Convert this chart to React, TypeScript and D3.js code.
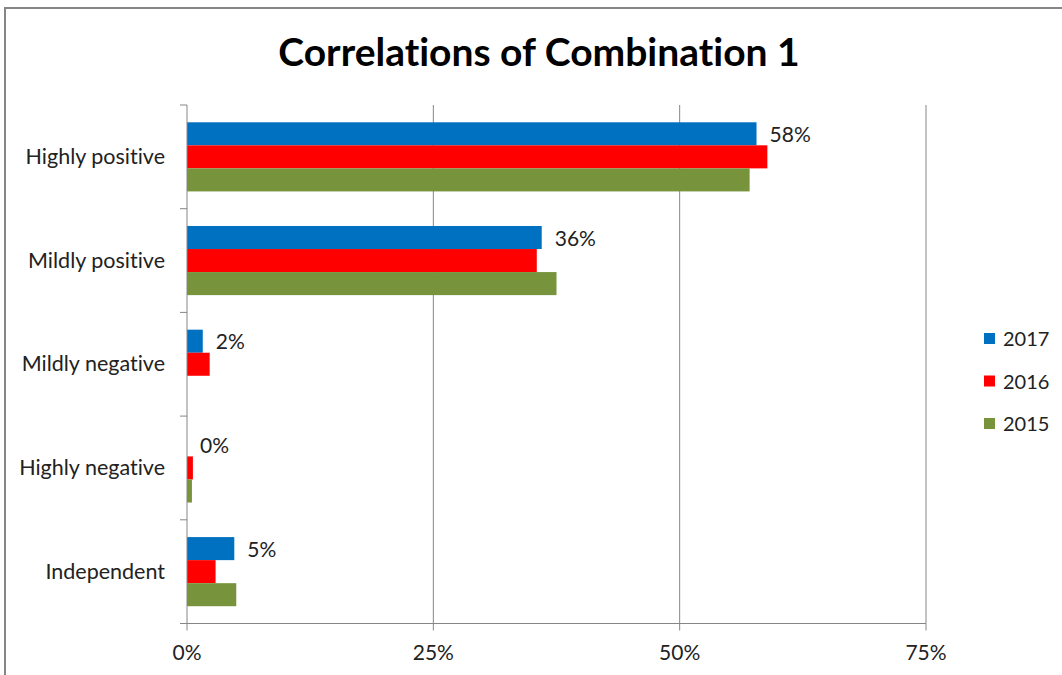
import React from "react";
import * as d3 from "d3";

const TITLE = "Correlations of Combination 1";
const categories = ["Highly positive", "Mildly positive", "Mildly negative", "Highly negative", "Independent"];
const seriesNames = ["2017", "2016", "2015"];
const values2017 = [57.8, 36.0, 1.6, 0, 4.8];
const values2016 = [58.9, 35.5, 2.3, 0.6, 2.9];
const values2015 = [57.1, 37.5, 0, 0.5, 5.0];
const seriesColors = ["#0070C0", "#FF0000", "#77933C"];
const xTicks = [0, 25, 50, 75];

const W = 1062;
const H = 675;
const FONT = "Lato, 'Noto Sans', sans-serif";

export default function App() {
  const series = [values2017, values2016, values2015];
  const left = 187, right = 926, top = 105, bottom = 623.5;
  const x = d3.scaleLinear().domain([0, 75]).range([left, right]);
  const y0 = d3.scaleBand<string>().domain(categories).range([top, bottom]).paddingInner(0).paddingOuter(0);
  const y1 = d3.scaleBand<string>().domain(seriesNames).range([0, y0.bandwidth()]).paddingInner(0).paddingOuter(0.75);
  const gridColor = "#868686";
  const bounds = [...categories.map((c) => y0(c)!), bottom];

  return (
    <svg
      width={W}
      height={H}
      style={{ position: "absolute", left: 0, top: 0, background: "#fff", fontVariantLigatures: "none" }}
    >
      <rect x={0} y={0} width={W} height={H} fill="#fff" />
      <rect x={5} y={8} width={W + 20} height={H + 20} fill="none" stroke={gridColor} strokeWidth={2} />
      <text x={539} y={66} textAnchor="middle" fontFamily={FONT} fontWeight="bold" fontSize={39} fill="#000">
        {TITLE}
      </text>
      {xTicks.map((t) => (
        <g key={t}>
          {t > 0 && <line x1={x(t)} x2={x(t)} y1={top} y2={bottom} stroke={gridColor} strokeWidth={1} />}
          <line x1={x(t)} x2={x(t)} y1={bottom} y2={bottom + 7} stroke={gridColor} strokeWidth={1} />
          <text x={x(t)} y={660} textAnchor="middle" fontFamily={FONT} fontSize={21} fill="#222">
            {`${t}%`}
          </text>
        </g>
      ))}
      {categories.map((c, i) =>
        series.map((vals, s) => {
          const v = vals[i];
          if (v <= 0) return null;
          return (
            <rect
              key={c + s}
              x={x(0)}
              y={y0(c)! + y1(seriesNames[s])!}
              width={x(v) - x(0)}
              height={y1.bandwidth()}
              fill={seriesColors[s]}
            />
          );
        })
      )}
      <line x1={left} x2={left} y1={top} y2={bottom} stroke={gridColor} strokeWidth={1} />
      <line x1={left} x2={right} y1={bottom} y2={bottom} stroke={gridColor} strokeWidth={1} />
      {bounds.map((b, i) => (
        <line key={i} x1={left - 7} x2={left} y1={b} y2={b} stroke={gridColor} strokeWidth={1} />
      ))}
      {categories.map((c) => (
        <text key={c} x={165} y={y0(c)! + y0.bandwidth() / 2 + 7} textAnchor="end" fontFamily={FONT} fontSize={21.5} fill="#222">
          {c}
        </text>
      ))}
      {categories.map((c, i) => (
        <text
          key={"l" + c}
          x={x(values2017[i]) + 13}
          y={y0(c)! + y1(seriesNames[0])! + y1.bandwidth() / 2 + 8}
          fontFamily={FONT}
          fontSize={21}
          fill="#222"
        >
          {`${Math.round(values2017[i])}%`}
        </text>
      ))}
      {seriesNames.map((n, s) => {
        const cy = 338.5 + s * 42.5;
        return (
          <g key={n}>
            <rect x={984} y={cy - 5.5} width={11} height={11} fill={seriesColors[s]} />
            <text x={1003} y={cy + 7.5} fontFamily={FONT} fontSize={20} fill="#222">
              {n}
            </text>
          </g>
        );
      })}
    </svg>
  );
}
